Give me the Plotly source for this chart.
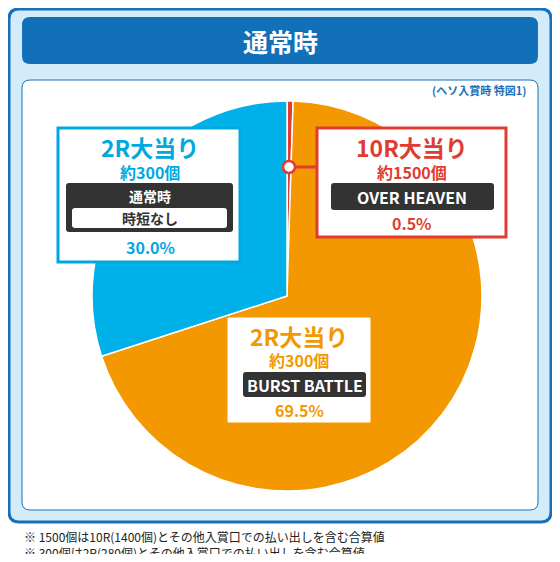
import plotly.graph_objects as go

# page has an 8px body margin, so the figure is drawn 16px smaller and offset
W, H = 560, 562
OFF = 8
FW, FH = W - 2 * OFF, H - 2 * OFF

labels = ["10R大当り", "2R大当り(BURST BATTLE)", "2R大当り(通常時)"]
values = [0.5, 69.5, 30.0]
colors = ["#e03c31", "#f39800", "#00b0e8"]

BLUE = "#00a8e0"
RED = "#e03c31"
ORANGE = "#f39800"
DARK = "#333333"


def px(x):
    return (x - OFF) / FW


def py(y):
    return 1 - (y - OFF) / FH


def rrect(x0, y0, x1, y1, r, fill, line=None, lw=0):
    # rounded rectangle in pixel coordinates -> paper
    X0, X1 = px(x0), px(x1)
    Y0, Y1 = py(y0), py(y1)
    rx, ry = r / FW, r / FH
    path = (f"M{X0+rx},{Y0} L{X1-rx},{Y0} Q{X1},{Y0} {X1},{Y0-ry} "
            f"L{X1},{Y1+ry} Q{X1},{Y1} {X1-rx},{Y1} L{X0+rx},{Y1} "
            f"Q{X0},{Y1} {X0},{Y1+ry} L{X0},{Y0-ry} Q{X0},{Y0} {X0+rx},{Y0} Z")
    return dict(type="path", xref="paper", yref="paper", path=path,
                fillcolor=fill, line=dict(color=line or fill, width=lw), layer="below")


fig = go.Figure()
fig.add_trace(go.Pie(
    labels=labels, values=values, sort=False, direction="clockwise", rotation=0,
    marker=dict(colors=colors, line=dict(color="white", width=1.5)),
    textinfo="none", hoverinfo="label+percent", showlegend=False,
    domain=dict(x=[px(92), px(482)], y=[py(491), py(101)]),
))

shapes = [
    rrect(9, 9, 551, 522, 10, "#d3ecf9", "#1a70b8", 3),
    rrect(22, 17, 538, 64, 8, "#1170b8"),
    rrect(22, 80, 538, 510, 8, "white", "#1a70b8", 1),
]
top = [
    dict(type="line", xref="paper", yref="paper", x0=px(289), y0=py(167), x1=px(318), y1=py(167),
         line=dict(color=RED, width=3)),
    dict(type="circle", xref="paper", yref="paper", x0=px(283), y0=py(161), x1=px(295), y1=py(173),
         fillcolor="white", line=dict(color=RED, width=2.5)),
    dict(type="rect", xref="paper", yref="paper", x0=px(58), y0=py(128), x1=px(240), y1=py(262),
         fillcolor="white", line=dict(color=BLUE, width=3)),
    dict(type="rect", xref="paper", yref="paper", x0=px(317), y0=py(128), x1=px(506), y1=py(237),
         fillcolor="white", line=dict(color=RED, width=3)),
    dict(type="rect", xref="paper", yref="paper", x0=px(228), y0=py(318), x1=px(370), y1=py(422),
         fillcolor="white", line=dict(color="white", width=1)),
]
for s in top:
    s["layer"] = "above"
dark = [
    rrect(66, 183, 233, 232, 3, DARK), rrect(72, 208, 227, 228, 3, "white"),
    rrect(331, 183, 494, 210, 3, DARK), rrect(243, 372, 366, 397, 3, DARK),
]
for s in dark:
    s["layer"] = "above"
fig.update_layout(shapes=shapes + top + dark)

F = "Noto Sans CJK JP"


def txt(x, y, t, size, color, bold=True, xanchor="center"):
    fig.add_annotation(x=px(x), y=py(y), xref="paper", yref="paper", xanchor=xanchor, yanchor="middle",
                       text=f"<b>{t}</b>" if bold else t, showarrow=False,
                       font=dict(family=F, size=size, color=color))


txt(280, 41, "通常時", 25, "white")
txt(528, 90, "(ヘソ入賞時 特図1)", 11, "#1a70b8", xanchor="right")

txt(150, 147, "2R大当り", 23, BLUE)
txt(150, 172, "約300個", 16, BLUE)
txt(150, 196, "通常時", 14, "white")
txt(150, 218, "時短なし", 14, DARK)
txt(150, 247, "30.0%", 16, BLUE)

txt(412, 147, "10R大当り", 23, RED)
txt(412, 172, "約1500個", 16, RED)
txt(412, 197, "OVER HEAVEN", 16, "white")
txt(412, 223, "0.5%", 16, RED)

txt(299, 336, "2R大当り", 23, ORANGE)
txt(299, 360, "約300個", 16, ORANGE)
txt(305, 385, "BURST BATTLE", 16, "white")
txt(299, 410, "69.5%", 16, ORANGE)

txt(22, 536, "※ 1500個は10R(1400個)とその他入賞口での払い出しを含む合算値", 12, "#222222", bold=False, xanchor="left")
txt(22, 552, "※ 300個は2R(280個)とその他入賞口での払い出しを含む合算値", 12, "#222222", bold=False, xanchor="left")

fig.update_layout(width=FW, height=FH, margin=dict(l=0, r=0, t=0, b=0),
                  paper_bgcolor="white", plot_bgcolor="white")
fig.write_html("out.html")
